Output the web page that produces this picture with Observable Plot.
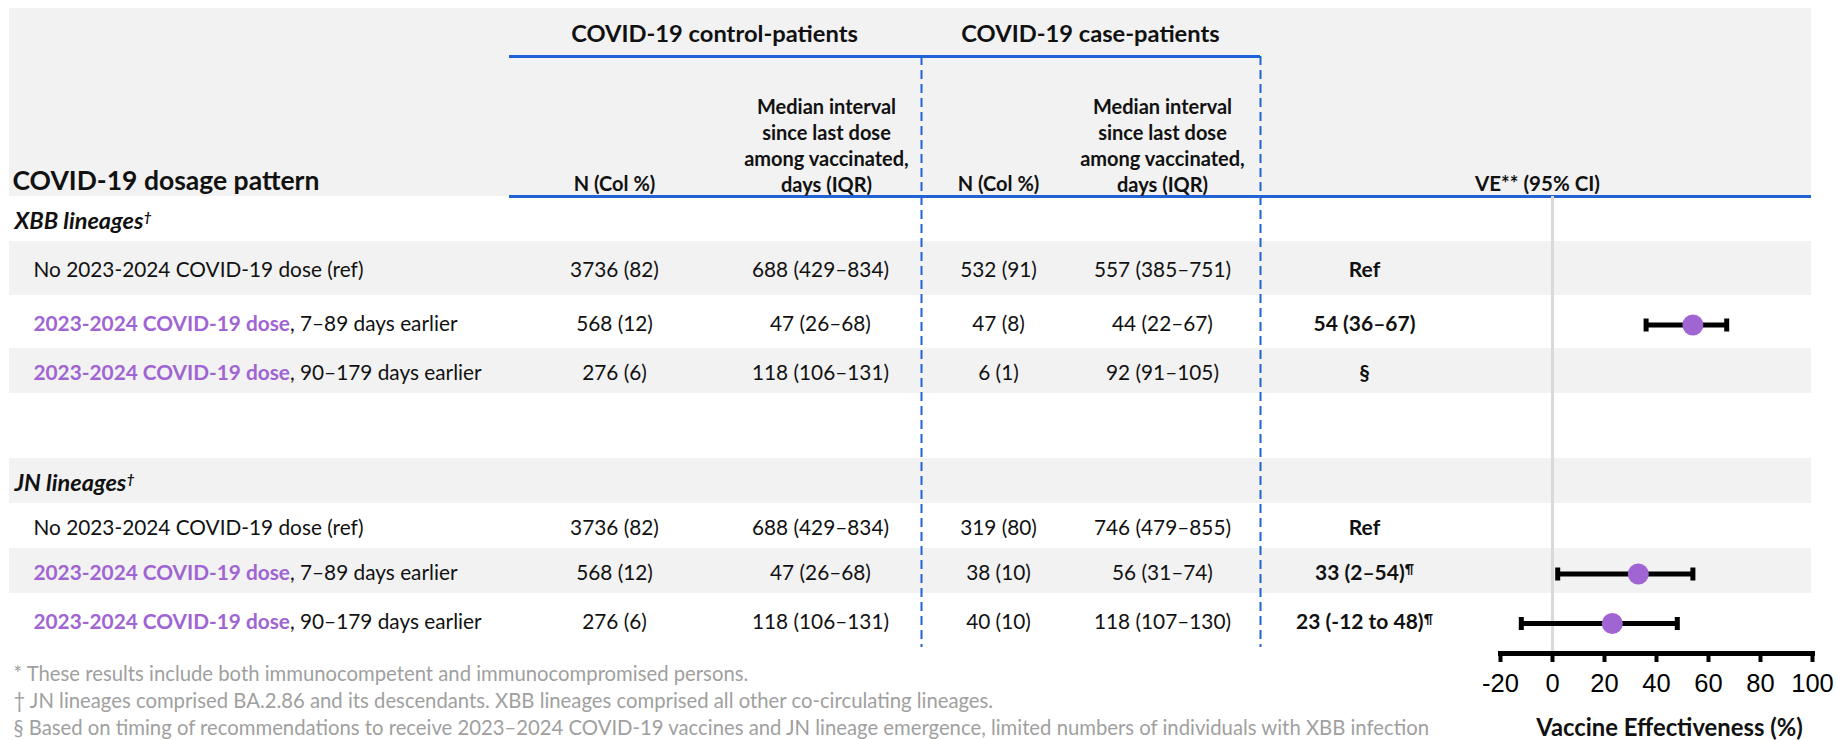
<!DOCTYPE html>
<html><head><meta charset="utf-8">
<script src="https://cdn.jsdelivr.net/npm/d3@7"></script>
<script src="https://cdn.jsdelivr.net/npm/@observablehq/plot@0.6"></script>
<style>
html,body{margin:0;padding:0;background:#fff;}
#wrap{position:relative;width:1837px;height:740px;overflow:hidden;}
#wrap svg{position:absolute;left:0;top:0;}
</style></head><body><div id="wrap"></div>
<script>
// ---------------- DATA ----------------
const groups = ["XBB lineages", "JN lineages"];
const dosage = [
  "No 2023-2024 COVID-19 dose (ref)",
  "2023-2024 COVID-19 dose, 7–89 days earlier",
  "2023-2024 COVID-19 dose, 90–179 days earlier"
];
const highlightPhrase = "2023-2024 COVID-19 dose";
const ctrlN      = ["3736 (82)", "568 (12)", "276 (6)", "3736 (82)", "568 (12)", "276 (6)"];
const ctrlMedian = ["688 (429–834)", "47 (26–68)", "118 (106–131)", "688 (429–834)", "47 (26–68)", "118 (106–131)"];
const caseN      = ["532 (91)", "47 (8)", "6 (1)", "319 (80)", "38 (10)", "40 (10)"];
const caseMedian = ["557 (385–751)", "44 (22–67)", "92 (91–105)", "746 (479–855)", "56 (31–74)", "118 (107–130)"];
const veLabel    = ["Ref", "54 (36–67)", "§", "Ref", "33 (2–54)¶", "23 (-12 to 48)¶"];
const ve         = [null, 54, null, null, 33, 23];
const veLow      = [null, 36, null, null, 2, -12];
const veHigh     = [null, 67, null, null, 54, 48];
const veTicks    = [-20, 0, 20, 40, 60, 80, 100];
const groupTitles = ["COVID-19 control-patients", "COVID-19 case-patients"];
const colHeadN = "N (Col %)";
const colHeadMedian = "Median interval\nsince last dose\namong vaccinated,\ndays (IQR)";
const rowHeader = "COVID-19 dosage pattern";
const veHeader = "VE** (95% CI)";
const axisTitle = "Vaccine Effectiveness (%)";
const footnotes = [
  "* These results include both immunocompetent and immunocompromised persons.",
  "† JN lineages comprised BA.2.86 and its descendants. XBB lineages comprised all other co-circulating lineages.",
  "§ Based on timing of recommendations to receive 2023–2024 COVID-19 vaccines and JN lineage emergence, limited numbers of individuals with XBB infection"
];

// ---------------- LAYOUT ----------------
const W = 1837, H = 740;
const blue = "#2062d8", purple = "#a064d3", shade = "#f2f2f2";
const bodyFont = "Lato, 'Open Sans', sans-serif";
// row slots: -2 header top, -1 group line, 0 header bottom, then one slot per table row
const yScale = {type: "linear", domain: [-2, -1, 0, 1, 2, 3, 4, 5, 6, 7, 8, 9],
  range: [8, 56, 196, 241, 295, 348, 393, 458, 503, 548, 593, 647], axis: null};
const col = {group: 14, label: 33, ctrlN: 614, ctrlMed: 820, ctrlMedHead: 826, caseN: 998, caseMed: 1162,
  veText: 1364, veHead: 1537, ctrlTitle: 714, caseTitle: 1090, axisTitle: 1669};
const fs = {body: 20.8, head: 20, title: 23.7, big: 26.5, group: 23.5};

// build table rows from the data arrays
const slots = [];
groups.forEach((g, gi) => {
  slots.push({slot: gi * 5, kind: "group", label: g + "†"});
  dosage.forEach((d, k) => {
    const i = gi * dosage.length + k;
    slots.push({slot: gi * 5 + 1 + k, kind: "row", label: d,
      ctrlN: ctrlN[i], ctrlMed: ctrlMedian[i], caseN: caseN[i], caseMed: caseMedian[i],
      veLabel: veLabel[i], ve: ve[i], lo: veLow[i], hi: veHigh[i]});
  });
});
const rows = slots.filter(d => d.kind === "row");
const groupRows = slots.filter(d => d.kind === "group");
const shadedSlots = d3.range(0, 9).filter(s => s % 2 === 1);
const mid = d => d.slot + 0.5;

const cellText = (field, x, extra = {}) =>
  Plot.text(rows, {x, y: mid, text: field, fontSize: fs.body, dy: 2, fill: "#111", ...extra});
const headText = (txt, x, dy, extra = {}) =>
  Plot.text([txt], {x, frameAnchor: "top", dy, lineAnchor: "middle", fontWeight: "bold", fill: "#111", ...extra});

const table = Plot.plot({
  width: W, height: H, margin: 0,
  style: {fontFamily: bodyFont, background: "white", color: "#111"},
  x: {type: "linear", domain: [0, W], range: [0, W], axis: null},
  y: yScale,
  marks: [
    Plot.rect([0], {x1: 9, x2: 1811, y1: -2, y2: 0, fill: shade}),
    Plot.rect(shadedSlots, {x1: 9, x2: 1811, y1: d => d, y2: d => d + 1, fill: shade}),
    Plot.ruleX([921, 1260], {x: d => d, y1: -1, y2: 9, stroke: blue, strokeWidth: 2, strokeDasharray: "9,5"}),
    Plot.ruleY([-1], {y: d => d, x1: 509, x2: 1260, stroke: blue, strokeWidth: 3}),
    Plot.ruleY([0], {y: d => d, x1: 509, x2: 1811, stroke: blue, strokeWidth: 3}),
    // header texts
    headText(groupTitles[0], col.ctrlTitle, 34, {fontSize: fs.title}),
    headText(groupTitles[1], col.caseTitle, 34, {fontSize: fs.title}),
    headText(rowHeader, 12, 181, {fontSize: fs.big, textAnchor: "start"}),
    headText(colHeadN, col.ctrlN, 184, {fontSize: fs.head}),
    headText(colHeadN, col.caseN, 184, {fontSize: fs.head}),
    headText(colHeadMedian, col.ctrlMedHead, 191, {fontSize: fs.head, lineAnchor: "bottom", lineHeight: 1.3}),
    headText(colHeadMedian, col.caseMed, 191, {fontSize: fs.head, lineAnchor: "bottom", lineHeight: 1.3}),
    headText(veHeader, col.veHead, 184, {fontSize: 20.5}),
    // group rows
    Plot.text(groupRows, {x: col.group, y: mid, text: "label", textAnchor: "start", dy: 2,
      fontSize: fs.group, fontWeight: "bold", fontStyle: "italic", fill: "#111"}),
    // data rows
    cellText("label", col.label, {textAnchor: "start"}),
    cellText("ctrlN", col.ctrlN),
    cellText("ctrlMed", col.ctrlMed),
    cellText("caseN", col.caseN),
    cellText("caseMed", col.caseMed),
    cellText("veLabel", col.veText, {fontWeight: "bold", fontSize: 21}),
    // footnotes & axis title
    Plot.text([footnotes.join("\n")], {x: 13, frameAnchor: "top", dy: 699, textAnchor: "start", lineAnchor: "middle",
      lineHeight: 1.33, fontSize: 20.3, fill: "#a0a0a0"}),
    Plot.text([axisTitle], {x: col.axisTitle, frameAnchor: "bottom", dy: -12, lineAnchor: "middle",
      fontSize: 23.8, fontWeight: "bold", fill: "#111"})
  ]
});

const veRows = rows.filter(d => d.ve != null);
const capSymbol = {draw(ctx) { ctx.moveTo(0, -6.5); ctx.lineTo(0, 6.5); }};
const forest = Plot.plot({
  width: W, height: H, marginLeft: 1500, marginRight: 25, marginTop: 196, marginBottom: 87,
  style: {fontFamily: "'Liberation Sans', Arial, sans-serif", background: "none", overflow: "visible", color: "#000"},
  x: {domain: [-20, 100]},
  y: yScale,
  marks: [
    Plot.ruleX([0], {stroke: "#d9d9d9", strokeWidth: 3}),
    Plot.ruleY(veRows, {x1: "lo", x2: "hi", y: mid, dy: 3, stroke: "#000", strokeWidth: 5}),
    Plot.dot(veRows, {x: "lo", y: mid, dy: 3, symbol: capSymbol, stroke: "#000", strokeWidth: 5}),
    Plot.dot(veRows, {x: "hi", y: mid, dy: 3, symbol: capSymbol, stroke: "#000", strokeWidth: 5}),
    Plot.dot(veRows, {x: "ve", y: mid, dy: 3, r: 10.5, fill: purple, stroke: null}),
    Plot.frame({anchor: "bottom", stroke: "#000", strokeWidth: 5}),
    Plot.axisX({ticks: veTicks, tickFormat: d => String(d), tickSize: 9, strokeWidth: 4,
      fontSize: 25.5, tickPadding: 11, label: null, color: "#000"})
  ]
});

const wrap = document.getElementById("wrap");
wrap.appendChild(table);
wrap.appendChild(forest);

// mixed styling inside row labels, and superscript marks
d3.select(table).selectAll("text").each(function () {
  if (this.querySelector("tspan")) return;
  const el = d3.select(this), s = el.text();
  if (s.startsWith(highlightPhrase)) {
    el.text(null);
    el.append("tspan").attr("fill", purple).attr("font-weight", "bold").text(highlightPhrase);
    el.append("tspan").text(s.slice(highlightPhrase.length));
  } else if (s.length > 1 && "†¶".includes(s.slice(-1))) {
    const last = s.slice(-1);
    el.text(s.slice(0, -1));
    el.append("tspan").attr("dy", "-0.45em").attr("font-size", "0.6em").text(last);
  }
});
</script></body></html>
